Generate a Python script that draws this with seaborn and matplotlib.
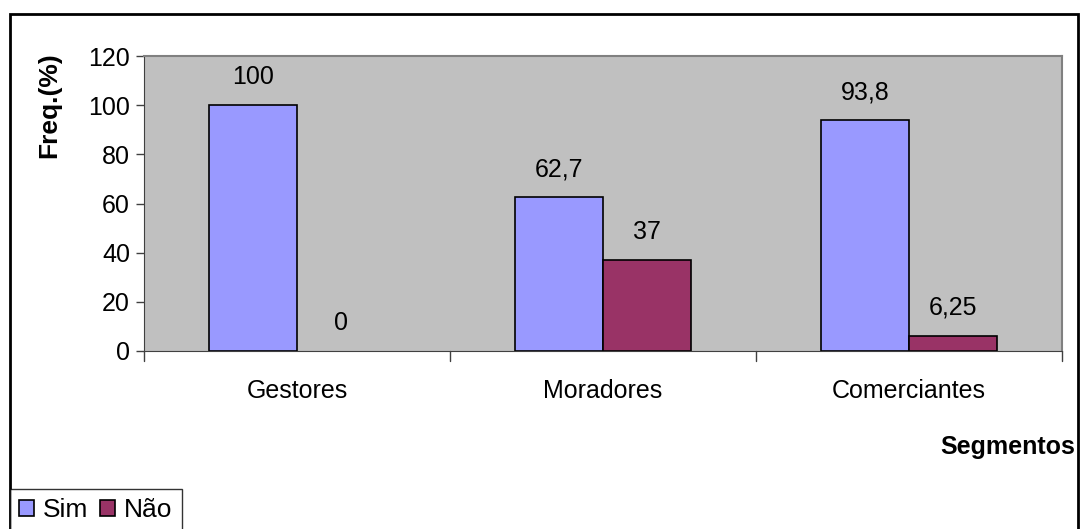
import pandas as pd
import matplotlib.pyplot as plt
import seaborn as sns
from matplotlib.patches import Rectangle

# data
segmentos = ['Gestores', 'Moradores', 'Comerciantes']
sim = [100, 62.7, 93.8]
nao = [0, 37, 6.25]
rotulos_sim = ['100', '62,7', '93,8']
rotulos_nao = ['0', '37', '6,25']

df = pd.DataFrame({
    'Segmento': segmentos * 2,
    'Resposta': ['Sim'] * 3 + ['Não'] * 3,
    'Freq': sim + nao,
})

sns.set_style('white')
plt.rcParams['font.family'] = ['Liberation Sans', 'DejaVu Sans']
plt.rcParams.update({'text.color': 'black', 'axes.labelcolor': 'black',
                     'xtick.color': '#404040', 'ytick.color': '#404040',
                     'xtick.labelcolor': 'black', 'ytick.labelcolor': 'black'})
FS = 18

fig = plt.figure(figsize=(10.8, 5.29), dpi=100)
ax = fig.add_axes([144 / 1080, 1 - 351 / 529, 918 / 1080, 295 / 529])
ax.set_facecolor('#C0C0C0')

sns.barplot(data=df, x='Segmento', y='Freq', hue='Resposta',
            palette={'Sim': '#9999FF', 'Não': '#993366'},
            width=0.575, edgecolor='black', linewidth=1.2,
            saturation=1, ax=ax, legend=True)

ax.set_ylim(0, 120)
ax.set_yticks(range(0, 121, 20))
ax.set_xlim(-0.5, 2.5)

# value labels above bars
for cont, labs in zip(ax.containers, [rotulos_sim, rotulos_nao]):
    for bar, lab in zip(cont, labs):
        if bar.get_height() == 0:
            bar.set_linewidth(0)
        ax.annotate(lab, (bar.get_x() + bar.get_width() / 2, bar.get_height()),
                    xytext=(0, 20), textcoords='offset points',
                    ha='center', va='center', fontsize=FS)

# axis look (Excel style)
for s in ['top', 'right']:
    ax.spines[s].set_color('#808080')
    ax.spines[s].set_linewidth(1.5)
ax.spines['left'].set_color('#404040')
ax.spines['bottom'].set_color('#404040')
ax.tick_params(axis='y', length=6, width=1, left=True, labelsize=FS, pad=4)
ax.set_xticks([0, 1, 2])
ax.set_xticklabels(segmentos, fontsize=FS)
ax.tick_params(axis='x', length=0, pad=20)
for xb in [-0.5, 0.5, 1.5, 2.5]:
    ax.plot([xb, xb], [0, -0.035], transform=ax.get_xaxis_transform(),
            color='#404040', lw=1, clip_on=False)

ax.set_xlabel('')
ax.set_ylabel('Freq.(%)', fontsize=FS + 1, fontweight='bold')
ax.yaxis.set_label_coords(-0.09, 0.834)
fig.text(1075 / 1080, 1 - 447 / 529, 'Segmentos', ha='right', va='center',
         fontsize=FS, fontweight='bold')

# legend bottom left
handles, labels = ax.get_legend_handles_labels()
ax.get_legend().remove()
leg = fig.legend(handles, labels, loc='upper left',
                 bbox_to_anchor=(10 / 1080, 1 - 489 / 529),
                 ncol=2, fontsize=FS + 1, frameon=True, fancybox=False,
                 handlelength=0.55, handleheight=0.55, handletextpad=0.35,
                 columnspacing=0.45, borderpad=0.35, borderaxespad=0.0)
leg.get_frame().set_edgecolor('black')
leg.get_frame().set_linewidth(1)

# outer chart border
fig.patches.append(Rectangle((10 / 1080, -0.05), 1068 / 1080, 1 - 14 / 529 + 0.05,
                             transform=fig.transFigure, fill=False,
                             edgecolor='black', linewidth=2, zorder=-1))

fig.savefig('out.png', dpi=100)
